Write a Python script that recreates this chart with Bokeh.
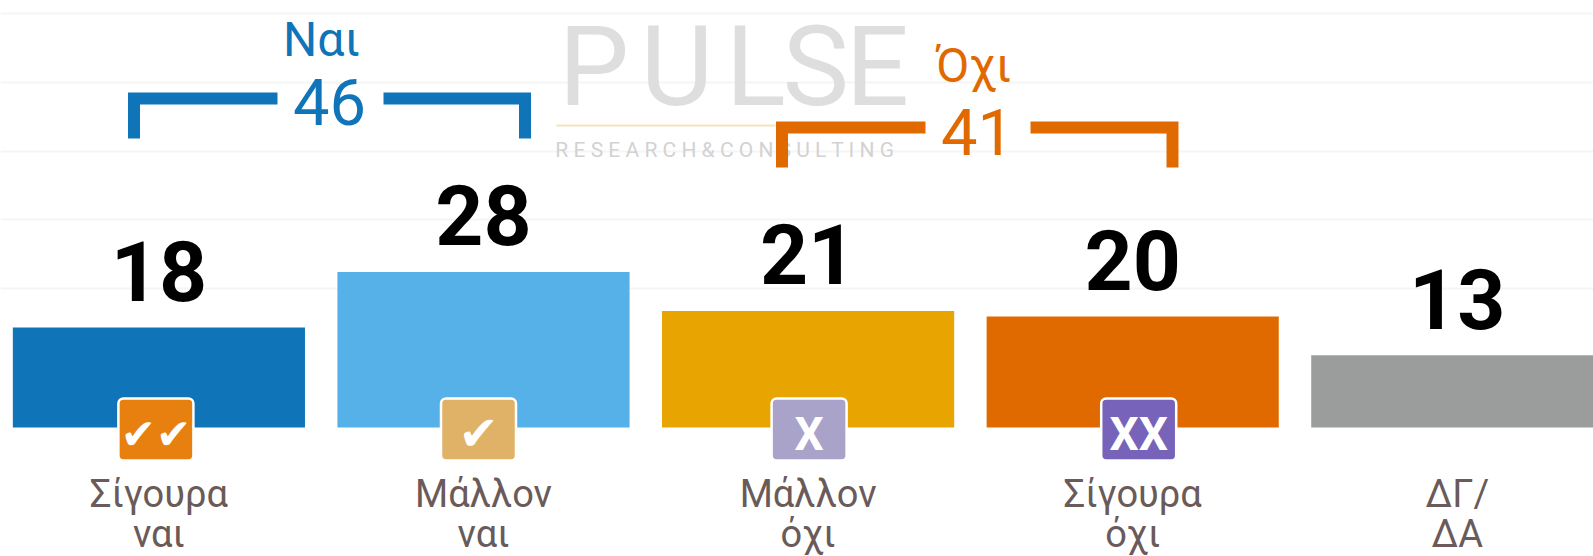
from bokeh.plotting import figure
from bokeh.models import Range1d, FixedTicker
from bokeh.core.properties import value
from bokeh.embed import file_html
from bokeh.resources import INLINE

line1 = ["Σίγουρα", "Μάλλον", "Μάλλον", "Σίγουρα", "ΔΓ/"]
line2 = ["ναι", "ναι", "όχι", "όχι", "ΔΑ"]
values = [18, 28, 21, 20, 13]
bar_colors = ["#0f75b8", "#56b1e8", "#e8a400", "#e06a00", "#9b9c9c"]
icon_colors = ["#e8800f", "#e0b268", "#a9a3ca", "#7763b9"]
icon_text = ["✔✔", "✔", "X", "XX"]
icon_shift = [-3, -5, 1, 6]
grid_values = [25, 37.4, 49.7, 62.2, 74.6]

PITCH = 324.6
UNIT = 5.55
W, H = 1593, 556
PAGE_X0 = 158.4
BASE_Y = 427
BL = 0.33  # measured shift of the alphabetic baseline, as a share of the font size
xs = list(range(5))


def X(px):
    return (px - PAGE_X0) / PITCH


def Y(py):
    return (BASE_Y - py) / UNIT


def YT(py, size):
    return Y(py - BL * size)


p = figure(width=W, height=H, output_backend="svg", toolbar_location=None,
           x_range=Range1d(-PAGE_X0 / PITCH, (W - PAGE_X0) / PITCH),
           y_range=Range1d(-(H - BASE_Y) / UNIT, BASE_Y / UNIT),
           min_border=0, outline_line_color=None, background_fill_color="white")
p.xaxis.visible = False
p.yaxis.visible = False
p.xgrid.visible = False
p.ygrid.ticker = FixedTicker(ticks=grid_values)
p.ygrid.grid_line_color = "#f5f5f5"
p.ygrid.grid_line_width = 2

# watermark
logo_letters = ["P", "U", "L", "S", "E"]
logo_px = [558, 640, 725, 782, 845]
p.text(x=[X(v) for v in logo_px], y=[YT(103, 112)] * 5, text=logo_letters,
       text_font=value("Roboto"), text_font_size="112px", text_color="#dedede",
       text_align="left", text_baseline="alphabetic")
p.line([X(556), X(775)], [Y(125)] * 2, line_color="#f3e2bd", line_width=2)
p.text(x=[X(735)], y=[YT(156, 21)], text=["R E S E A R C H   &   C O N S U L T I N G"],
       text_font=value("Roboto"), text_font_size="21px", text_color="#d2d2d2",
       text_align="center", text_baseline="alphabetic")

# bars
p.vbar(x=xs, top=values, bottom=0, width=0.9, color=bar_colors, line_color=None)

# value labels
p.text(x=xs, y=values, text=[str(v) for v in values], y_offset=-29 - BL * 84,
       text_font=value("Roboto"), text_font_style="bold",
       text_font_size="84px", text_color="#000000", text_align="center",
       text_baseline="alphabetic")

# category labels
FONT = value("Roboto")
LAB = 38
p.text(x=xs, y=[YT(506, LAB)] * 5, text=line1, text_font=FONT, text_font_size=f"{LAB}px",
       text_color="#6a5a5a", text_align="center", text_baseline="alphabetic")
p.text(x=xs, y=[YT(546, LAB)] * 5, text=line2, text_font=FONT, text_font_size=f"{LAB}px",
       text_color="#6a5a5a", text_align="center", text_baseline="alphabetic")

# icons
for i, (c, t, s) in enumerate(zip(icon_colors, icon_text, icon_shift)):
    cx = i + s / PITCH
    half = 37.5 / PITCH
    p.quad(left=[cx - half], right=[cx + half], top=[Y(398)], bottom=[Y(460)],
           fill_color=c, line_color="white", line_width=2.5, border_radius=5)
    is_x = t[0] == "X"
    size = 46 if is_x else (42 if len(t) == 2 else 48)
    p.text(x=[cx], y=[YT(449 if is_x else 448, size)], text=[t],
           text_font=value("Roboto" if is_x else "DejaVu Sans"),
           text_font_style="bold", text_font_size=f"{size}px",
           text_color="white", text_align="center", text_baseline="alphabetic")

# brackets
for pts, col in [
    ([(133.5, 138), (133.5, 98), (277, 98)], "#0f75b8"),
    ([(383, 98), (524.5, 98), (524.5, 138)], "#0f75b8"),
    ([(781.5, 167), (781.5, 127), (925, 127)], "#e06a00"),
    ([(1030, 127), (1172, 127), (1172, 167)], "#e06a00"),
]:
    p.line([X(a) for a, _ in pts], [Y(b) for _, b in pts], line_color=col, line_width=12,
           line_join="miter", line_cap="butt")

# totals
totals = [("Ναι", "46", 321, 329, 55, 123, "#0f75b8"), ("Όχι", "41", 973, 977, 81, 153, "#e06a00")]
for name, total, cx1, cx2, y1, y2, col in totals:
    p.text(x=[X(cx1)], y=[YT(y1, 48)], text=[name], text_font=FONT, text_font_size="48px",
           text_color=col, text_align="center", text_baseline="alphabetic")
    p.text(x=[X(cx2)], y=[YT(y2, 65)], text=[total], text_font=FONT, text_font_size="65px",
           text_color=col, text_align="center", text_baseline="alphabetic")

open("out.html", "w").write(file_html(p, INLINE))
